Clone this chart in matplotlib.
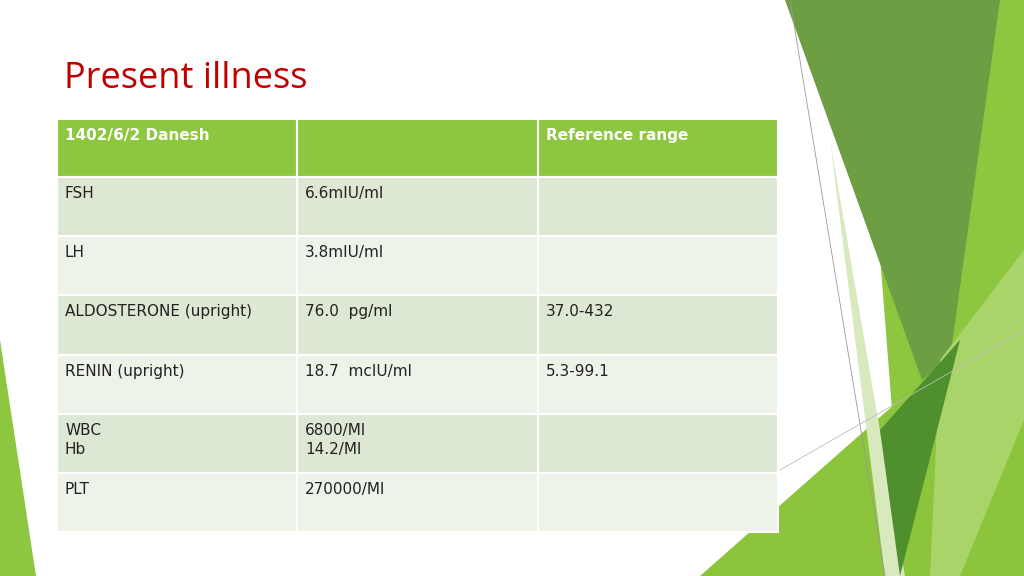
import matplotlib
matplotlib.use("Agg")
import matplotlib.pyplot as plt
from matplotlib.patches import Rectangle, Polygon

title = "Present illness"
header = ["1402/6/2 Danesh", "", "Reference range"]
col1 = ["FSH", "LH", "ALDOSTERONE (upright)", "RENIN (upright)", "WBC\nHb", "PLT"]
col2 = ["6.6mIU/ml", "3.8mIU/ml", "76.0  pg/ml", "18.7  mcIU/ml", "6800/Ml\n14.2/Ml", "270000/Ml"]
col3 = ["", "", "37.0-432", "5.3-99.1", "", ""]

fig = plt.figure(figsize=(10.24, 5.76), dpi=100)
ax = fig.add_axes([0, 0, 1, 1])
ax.set_xlim(0, 1024); ax.set_ylim(576, 0); ax.axis("off")

shapes = [
    ([(860, 0), (1024, 0), (1024, 576), (905, 576)], "#8DC63F", 1),
    ([(785, 0), (1000, 0), (940, 430)], "#6E9E44", 2),
    ([(700, 576), (1024, 290), (1024, 576)], "#8CC43C", 3),
    ([(830, 140), (885, 576), (905, 576)], "#D8E9BE", 4),
    ([(940, 360), (1024, 250), (1024, 420), (960, 576), (930, 576)], "#A9D46A", 3),
    ([(880, 430), (960, 340), (900, 576)], "#4F8F2E", 5),
    ([(0, 340), (0, 576), (36, 576)], "#8DC63F", 1),
]
for pts, c, z in shapes:
    ax.add_patch(Polygon(pts, closed=True, facecolor=c, edgecolor="none", zorder=z))
ax.plot([790, 885], [0, 576], color="#999999", lw=0.6, zorder=6)
ax.plot([780, 1024], [470, 330], color="#bbbbbb", lw=0.6, zorder=6)

ax.text(64, 79, title, color="#C00000", fontsize=26, family="Open Sans", va="center", ha="left", zorder=10)

xs = [57, 297, 538, 778]
y0, hh, rh = 119, 58, 59.2
rows = [header] + [list(r) for r in zip(col1, col2, col3)]
for i, row in enumerate(rows):
    top = y0 if i == 0 else y0 + hh + (i - 1) * rh
    h = hh if i == 0 else rh
    fc = "#8DC63F" if i == 0 else ("#DDE8D4" if i % 2 == 1 else "#EEF3EA")
    for j in range(3):
        ax.add_patch(Rectangle((xs[j], top), xs[j+1] - xs[j], h, facecolor=fc,
                               edgecolor="white", lw=1.5, zorder=8))
        if row[j]:
            ax.text(xs[j] + 8, top + 9, row[j], fontsize=11, family="DejaVu Sans",
                    fontweight="bold" if i == 0 else "normal",
                    color="white" if i == 0 else "#222222", va="top", ha="left",
                    linespacing=1.35, zorder=10)

fig.savefig("out.png", dpi=100)
